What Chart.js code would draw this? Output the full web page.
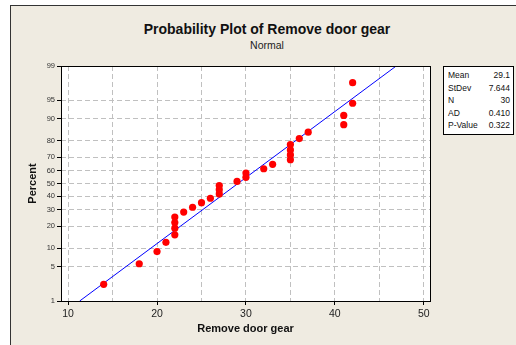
<!DOCTYPE html>
<html lang="en">
<head>
  <meta charset="UTF-8">
  <title>Probability Plot of Remove door gear</title>
  <script src="https://cdn.jsdelivr.net/npm/chart.js"></script>
  <style>
    body {
      margin: 0;
      background: #fff;
      font-family: "Liberation Sans", Arial, sans-serif;
    }
    .frame {
      position: absolute;
      left: 10px;
      top: 5px;
      width: 520px;
      height: 350px;
      background: #efebe1;
      border-left: 1px solid #333;
      border-top: 1px solid #333;
    }
    .chart-box {
      position: absolute;
      left: 0;
      top: 0;
      width: 516px;
      height: 345px;
    }
    .title {
      position: absolute;
      left: 267px;
      top: 21px;
      transform: translateX(-50%);
      white-space: nowrap;
      font-weight: bold;
      font-size: 14px;
      color: #111;
    }
    .subtitle {
      position: absolute;
      left: 267px;
      top: 39px;
      transform: translateX(-50%);
      font-size: 10.5px;
      color: #222;
    }
    .stats {
      position: absolute;
      left: 443px;
      top: 66px;
      width: 62px;
      padding: 2px 3px 2px 4px;
      background: #fff;
      border: 1px solid #000;
      font-size: 8.5px;
      color: #111;
    }
    .stats div {
      display: flex;
      justify-content: space-between;
      line-height: 12.6px;
    }
  </style>
</head>
<body>
<div class="frame"></div>
<div class="title">Probability Plot of Remove door gear</div>
<div class="subtitle">Normal</div>
<div class="chart-box"><canvas id="probChart" width="516" height="345"></canvas></div>
<div class="stats" id="stats"></div>

<script>
  // data
  const gearTimes = [14, 18, 20, 21, 22, 22, 22, 22, 23, 24, 25, 26, 27, 27, 27,
                     29, 30, 30, 32, 33, 35, 35, 35, 35, 36, 37, 41, 41, 42, 42];
  const percents = [2.3, 5.6, 8.9, 12.2, 15.5, 18.8, 22.0, 25.3, 28.6, 31.9, 35.2, 38.5, 41.8, 45.1, 48.4,
                    51.6, 54.9, 58.2, 61.5, 64.8, 68.1, 71.4, 74.7, 78.0, 81.3, 84.5, 87.8, 91.1, 94.4, 97.7];
  const fitX = [11.3, 46.9];
  const fitPct = [1, 99];
  const percentTicks = [1, 5, 10, 20, 30, 40, 50, 60, 70, 80, 90, 95, 99];
  const xTicks = [10, 15, 20, 25, 30, 35, 40, 45, 50];
  const statLabels = ['Mean', 'StDev', 'N', 'AD', 'P-Value'];
  const statValues = ['29.1', '7.644', '30', '0.410', '0.322'];

  document.getElementById('stats').innerHTML = statLabels.map((l, i) =>
          `<div><span>${l}</span><span>${statValues[i]}</span></div>`).join('');

  // inverse normal cdf (Acklam)
  function probit(p) {
    const a = [-39.6968302866538, 220.946098424521, -275.928510446969, 138.357751867269, -30.6647980661472, 2.50662827745924];
    const b = [-54.4760987982241, 161.585836858041, -155.698979859887, 66.8013118877197, -13.2806815528857];
    const c = [-0.00778489400243029, -0.322396458041136, -2.40075827716184, -2.54973253934373, 4.37466414146497, 2.93816398269878];
    const d = [0.00778469570904146, 0.32246712907004, 2.445134137143, 3.75440866190742];
    const pl = 0.02425;
    let q, r;
    if (p < pl) {
      q = Math.sqrt(-2 * Math.log(p));
      return (((((c[0]*q+c[1])*q+c[2])*q+c[3])*q+c[4])*q+c[5]) / ((((d[0]*q+d[1])*q+d[2])*q+d[3])*q+1);
    }
    if (p > 1 - pl) {
      q = Math.sqrt(-2 * Math.log(1 - p));
      return -(((((c[0]*q+c[1])*q+c[2])*q+c[3])*q+c[4])*q+c[5]) / ((((d[0]*q+d[1])*q+d[2])*q+d[3])*q+1);
    }
    q = p - 0.5;
    r = q * q;
    return (((((a[0]*r+a[1])*r+a[2])*r+a[3])*r+a[4])*r+a[5])*q / (((((b[0]*r+b[1])*r+b[2])*r+b[3])*r+b[4])*r+1);
  }

  const plotFrame = {
    id: 'plotFrame',
    beforeDraw(chart) {
      const a = chart.chartArea;
      chart.ctx.save();
      chart.ctx.fillStyle = '#fff';
      chart.ctx.fillRect(a.left, a.top, a.right - a.left, a.bottom - a.top);
      chart.ctx.restore();
    },
    afterDraw(chart) {
      const a = chart.chartArea;
      const ctx = chart.ctx;
      ctx.save();
      ctx.strokeStyle = '#000';
      ctx.lineWidth = 1;
      ctx.strokeRect(a.left + 0.5, a.top + 0.5, a.right - a.left, a.bottom - a.top);
      ctx.restore();
    }
  };

  new Chart(document.getElementById('probChart'), {
    type: 'scatter',
    data: {
      datasets: [
        {
          label: 'Fit',
          type: 'line',
          data: fitX.map((x, i) => ({ x: x, y: probit(fitPct[i] / 100) })),
          borderColor: '#0000ff',
          borderWidth: 1,
          pointRadius: 0,
          fill: false,
          order: 2
        },
        {
          label: 'Remove door gear',
          data: gearTimes.map((x, i) => ({ x: x, y: probit(percents[i] / 100) })),
          backgroundColor: '#ff0000',
          borderWidth: 0,
          pointRadius: 3.6,
          order: 1
        }
      ]
    },
    options: {
      responsive: false,
      animation: false,
      layout: { padding: { left: 10, top: 66, right: 86, bottom: 0 } },
      plugins: {
        legend: { display: false },
        tooltip: { enabled: false }
      },
      scales: {
        x: {
          type: 'linear',
          min: 9.2,
          max: 50.7,
          afterBuildTicks: s => { s.ticks = xTicks.map(v => ({ value: v })); },
          afterFit: s => { s.height = 44; },
          grid: {
            color: '#c0c0c0',
            tickLength: 4,
            tickColor: ctx => ctx.tick && ctx.tick.value % 10 === 0 ? '#000' : 'rgba(0,0,0,0)'
          },
          border: { display: false, dash: [5, 3] },
          ticks: {
            padding: 3,
            color: '#222',
            font: { family: 'Liberation Sans', size: 10.5 },
            callback: v => v % 10 === 0 ? v : ''
          },
          title: {
            display: true,
            text: 'Remove door gear',
            color: '#111',
            font: { family: 'Liberation Sans', size: 11, weight: 'bold' },
            padding: { top: 0, bottom: 9 }
          }
        },
        y: {
          type: 'linear',
          min: probit(0.01),
          max: probit(0.99),
          afterBuildTicks: s => { s.ticks = percentTicks.map(p => ({ value: probit(p / 100) })); },
          afterFit: s => { s.width = 51; },
          grid: {
            color: '#c0c0c0',
            tickLength: 4,
            tickColor: '#000'
          },
          border: { display: false, dash: [5, 3] },
          ticks: {
            padding: 2,
            color: '#333',
            font: { family: 'Liberation Sans', size: 7.5 },
            callback: (v, i) => percentTicks[i]
          },
          title: {
            display: true,
            text: 'Percent',
            color: '#111',
            font: { family: 'Liberation Sans', size: 11, weight: 'bold' },
            padding: { top: 16, bottom: 0 }
          }
        }
      }
    },
    plugins: [plotFrame]
  });
</script>
</body>
</html>
